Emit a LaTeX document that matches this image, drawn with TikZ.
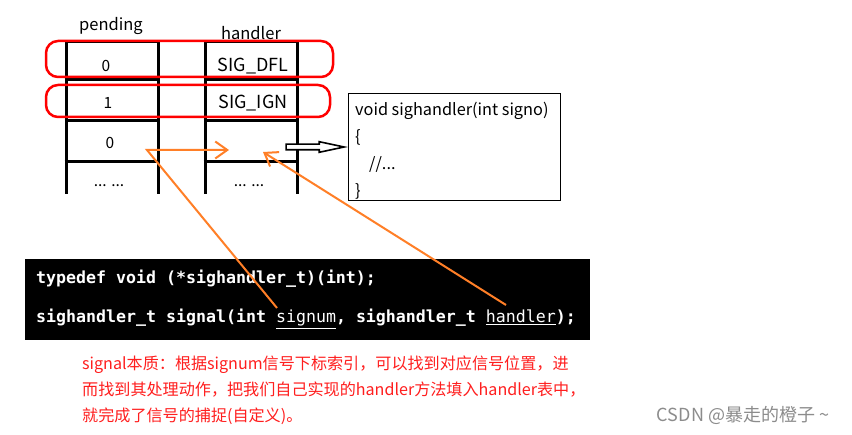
\documentclass[tikz,border=0pt]{standalone}
\usepackage{fontspec}
\setmainfont{Liberation Sans}
\setmonofont{DejaVu Sans Mono}
\newfontfamily\cjk{Noto Sans CJK SC}
\usetikzlibrary{positioning,arrows.meta,shapes.arrows}
\definecolor{ptrorange}{RGB}{255,127,39}
\definecolor{notered}{RGB}{255,30,30}

\begin{document}
\begin{tikzpicture}[x=1pt, y=-1pt, >={Straight Barb[length=12pt,width=17pt]},
  lbl/.style={font=\cjk\fontsize{15.5}{18}\selectfont, inner sep=0pt},
  tbl/.style={line width=3pt},
  ring/.style={draw=red, line width=2.5pt, rounded corners=12pt},
  ptr/.style={draw=ptrorange, line width=2pt, ->},
  codeline/.style={font=\ttfamily\bfseries\fontsize{16.6}{19}\selectfont, text=white, inner sep=0pt, anchor=west}]
 \fill[white] (0,0) rectangle (852,435);
 \useasboundingbox (0,0) rectangle (852,435);
 % table columns
 \node[lbl, font=\cjk\fontsize{16.5}{18}\selectfont] (pendlbl) at (111,26) {pending};
 \node[lbl, font=\cjk\fontsize{16.5}{18}\selectfont] (handlbl) at (251,33) {handler};
 \foreach \x in {66,158,205,297} \draw[tbl] (\x,42) -- (\x,194);
 \foreach \y in {42,80,121,162} {
  \draw[tbl] (64.5,\y) -- (159.5,\y);
  \draw[tbl] (203.5,\y) -- (298.5,\y);
 }
 \node[lbl] (p0) at (106,66) {0};
 \node[lbl] (p1) at (108,103) {1};
 \node[lbl] (p2) at (110,143) {0};
 \node[lbl] (p3) at (109,186) {... ...};
 \node[lbl, font=\cjk\fontsize{18}{20}\selectfont] (h0) at (253,66) {SIG\_DFL};
 \node[lbl, font=\cjk\fontsize{18}{20}\selectfont] (h1) at (253,103) {SIG\_IGN};
 \node[lbl] (h3) at (249,186) {... ...};
 % red marks
 \draw[ring] (46,41) rectangle (333,77);
 \draw[ring] (46,85) rectangle (330,117);
 % user handler
 \node[draw, line width=1pt, minimum width=212pt, minimum height=107pt, anchor=north west] (fnbox) at (348,93) {};
 \node[lbl, align=left, anchor=north west, font=\cjk\fontsize{16.3}{27}\selectfont] (fnbody) at (355,102)
  {void sighandler(int signo)\\\{\\\hspace*{14pt}//...\\\}};
 \node[single arrow, draw, line width=1.6pt, fill=white, inner sep=0pt, text height=4pt, text depth=0pt,
  minimum height=58pt, single arrow head extend=2.5pt, single arrow tip angle=24, anchor=tip] (jump) at (fnbox.west) {};
 % code
 \node[fill=black, minimum width=565pt, minimum height=81pt, anchor=north west] (code) at (25,259) {};
 \node[codeline] (c1) at (36,279) {typedef void (*sighandler\_t)(int);};
 \node[codeline] (c2) at (36,319) {sighandler\_t signal(int \mdseries\underline{signum}\bfseries, sighandler\_t \mdseries\underline{handler}\bfseries);};
 % orange pointers
 \coordinate (signumpt) at (277,308);
 \coordinate (bend) at (147,150);
 \coordinate (slot) at (229,150);
 \coordinate (handlerpt) at (506,305);
 \coordinate (slotfn) at (263,152);
 \draw[ptr] (signumpt) -- (bend) -- (slot);
 \draw[ptr] (handlerpt) -- (slotfn);
 % note
 \node[lbl, align=left, anchor=north west, text=notered, font=\cjk\fontsize{16.1}{26}\selectfont] (note) at (82,356)
  {signal本质：根据signum信号下标索引，可以找到对应信号位置，进\\而找到其处理动作，把我们自己实现的handler方法填入handler表中，\\就完成了信号的捕捉(自定义)。};
 \node[lbl, text=black!45, font=\cjk\fontsize{18}{20}\selectfont] (mark) at (743,415) {CSDN @暴走的橙子 \textasciitilde};
\end{tikzpicture}
\end{document}
